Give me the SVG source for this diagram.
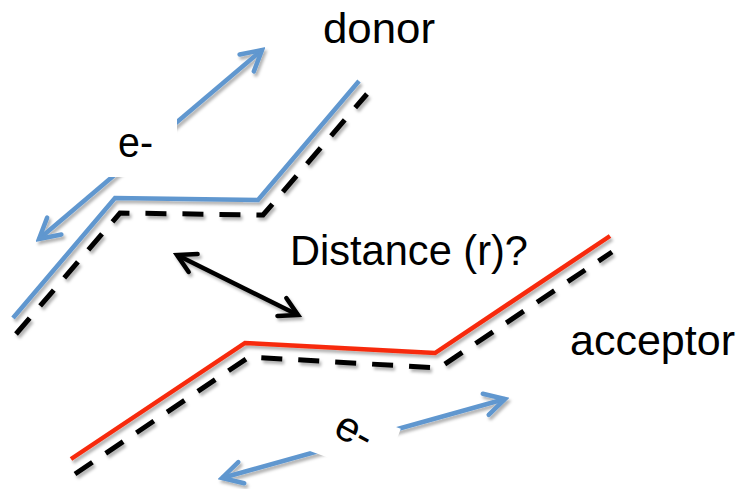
<svg xmlns="http://www.w3.org/2000/svg" width="742" height="489" viewBox="0 0 742 489">
  <style>
    .lbl { font-family: "Liberation Sans", Arial, sans-serif; font-size: 42px; fill: #000; }
    .blue { fill: none; stroke: #6097cf; stroke-width: 4.5; }
    .red { fill: none; stroke: #f72a0a; stroke-width: 4.5; stroke-linejoin: miter; }
    .dash { fill: none; stroke: #000; stroke-width: 5; stroke-dasharray: 21 16; }
    .dist { fill: none; stroke: #000; stroke-width: 4.5; }
  </style>
  <defs>
    <filter id="sh" x="-20%" y="-20%" width="140%" height="140%">
      <feDropShadow dx="2" dy="3" stdDeviation="1.8" flood-color="#000" flood-opacity="0.3"/>
    </filter>
    <marker id="ab" markerUnits="userSpaceOnUse" viewBox="-24 -14 28 28" markerWidth="28" markerHeight="28" refX="0" refY="0" orient="auto-start-reverse">
      <path d="M-20,-11 L0,0 L-20,11" fill="none" stroke="#6097cf" stroke-width="4.5" stroke-linecap="round"/>
    </marker>
    <marker id="ak" markerUnits="userSpaceOnUse" viewBox="-24 -14 28 28" markerWidth="28" markerHeight="28" refX="0" refY="0" orient="auto-start-reverse">
      <path d="M-18,-10 L0,0 L-18,10" fill="none" stroke="#000" stroke-width="4.5" stroke-linecap="round"/>
    </marker>
  </defs>

  <rect width="742" height="489" fill="#fff"/>

  <g id="donor" filter="url(#sh)">
    <polyline class="dash" points="16,334 120,213 263,215 367,94"/>
    <polyline class="blue" points="13,318 115,198 258,200 359,81"/>
  </g>

  <g id="acceptor" filter="url(#sh)">
    <polyline class="dash" points="75,474 249,357 439,368 612,252"/>
    <polyline class="red" points="71,459 245,343 435,353 610,236"/>
  </g>

  <g id="connectors" filter="url(#sh)">
    <line class="blue" x1="39" y1="239" x2="262" y2="50" marker-start="url(#ab)" marker-end="url(#ab)"/>
    <line class="blue" x1="222" y1="478" x2="505" y2="399" marker-start="url(#ab)" marker-end="url(#ab)"/>
    <line class="dist" x1="177" y1="255" x2="298" y2="315" marker-start="url(#ak)" marker-end="url(#ak)"/>
  </g>

  <g id="label-e-top">
    <rect x="100" y="116" width="77" height="61" fill="#fff"/>
    <text class="lbl" x="118" y="157" textLength="35" lengthAdjust="spacingAndGlyphs">e-</text>
  </g>

  <g id="label-e-bottom" transform="rotate(20 353 440)">
    <rect x="314" y="413" width="80" height="52" fill="#fff"/>
    <text class="lbl" x="331" y="442" transform="rotate(8 331 442)">e-</text>
  </g>

  <g id="label-donor">
    <text class="lbl" x="323" y="43" textLength="112" lengthAdjust="spacingAndGlyphs">donor</text>
  </g>
  <g id="label-distance">
    <text class="lbl" x="290" y="265" textLength="238" lengthAdjust="spacingAndGlyphs">Distance (r)?</text>
  </g>
  <g id="label-acceptor">
    <text class="lbl" x="570" y="355" textLength="165" lengthAdjust="spacingAndGlyphs">acceptor</text>
  </g>
</svg>
